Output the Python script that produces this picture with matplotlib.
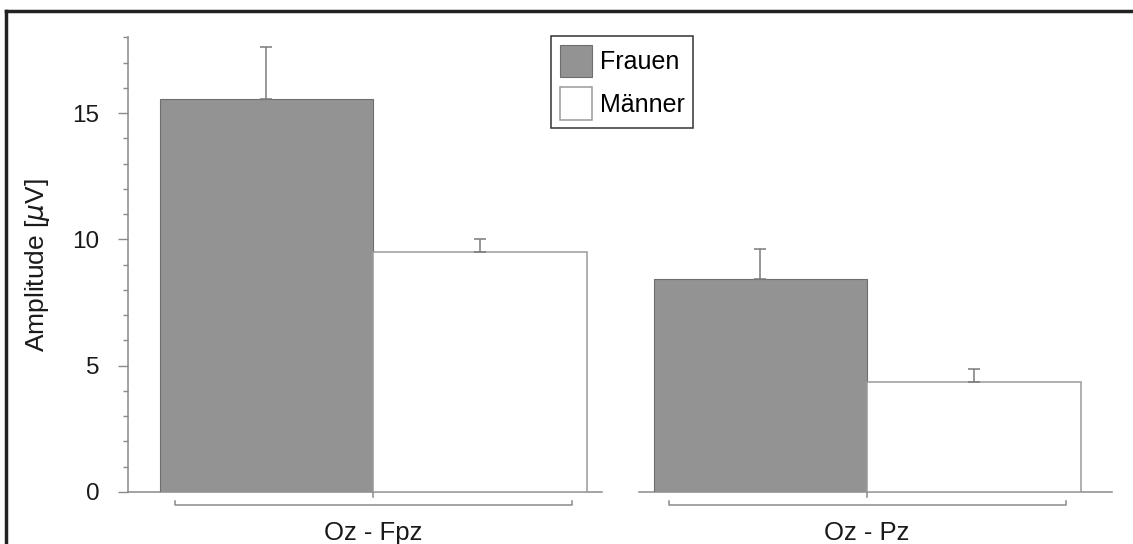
import matplotlib.pyplot as plt
from matplotlib.lines import Line2D
from matplotlib.patches import Patch

plt.rcParams['font.family'] = ['Liberation Sans', 'DejaVu Sans']

# data
groups = ["Oz - Fpz", "Oz - Pz"]
frauen = [15.58, 8.42]
frauen_err = [2.05, 1.2]
maenner = [9.49, 4.37]
maenner_err = [0.52, 0.5]

group_pos = [0.0, 2.314]
width = 1.0
axis_grey = "#8a8a8a"

fig = plt.figure(figsize=(11.33, 5.44), dpi=100)
ax = fig.add_axes([0.11297, 0.09559, 0.8685, 0.8355])

x_f = [g - width / 2 for g in group_pos]
x_m = [g + width / 2 for g in group_pos]

ax.bar(x_f, frauen, width, color="#939393", edgecolor="#6e6e6e", linewidth=0.8, zorder=2)
ax.bar(x_m, maenner, width, color="white", edgecolor="#9a9a9a", linewidth=1.1, zorder=2)

err_kw = dict(fmt="none", ecolor="#7a7a7a", elinewidth=1.1, capsize=4, capthick=1.1, zorder=3)
ax.errorbar(x_f, frauen, yerr=[[0] * len(frauen), frauen_err], **err_kw)
ax.errorbar(x_m, maenner, yerr=[[0] * len(maenner), maenner_err], **err_kw)

xmin, xmax = -1.148, group_pos[1] + 1.147
ax.set_xlim(xmin, xmax)
ax.set_ylim(0, 18)

# broken x axis, one piece per group
line_kw = dict(color=axis_grey, linewidth=1.1, clip_on=False, zorder=1)
ax.plot([xmin, group_pos[0] + 1.07], [0, 0], **line_kw)
ax.plot([group_pos[1] - 1.07, xmax], [0, 0], **line_kw)

for g, name in zip(group_pos, groups):
    ax.plot([g, g], [0, -0.2], **line_kw)
    ax.plot([g - 0.93, g - 0.93, g + 0.93, g + 0.93], [-0.36, -0.52, -0.52, -0.36], **line_kw)
    ax.text(g, -1.9, name, ha="center", va="baseline", fontsize=18.5, color="#1a1a1a", clip_on=False)

for side in ["top", "right", "bottom"]:
    ax.spines[side].set_visible(False)
ax.spines["left"].set_bounds(0, 18)
ax.spines["left"].set_color(axis_grey)
ax.spines["left"].set_linewidth(1.1)

ax.set_xticks([])
ax.set_yticks([0, 5, 10, 15])
ax.set_yticks(range(0, 19), minor=True)
ax.tick_params(axis="y", which="major", length=7.5, width=1.0, color=axis_grey,
               labelsize=17.5, labelcolor="#1a1a1a", pad=13)
ax.tick_params(axis="y", which="minor", length=3.8, width=1.0, color=axis_grey)

ax.set_ylabel(r"Amplitude [$\mu$V]", fontsize=19, color="#1a1a1a")
ax.yaxis.set_label_coords(-0.077, 0.5)

handles = [Patch(facecolor="#939393", edgecolor="#6e6e6e", linewidth=0.8),
           Patch(facecolor="white", edgecolor="#9a9a9a", linewidth=1.1)]
leg = fig.legend(handles, ["Frauen", "Männer"], loc="upper left",
                 bbox_to_anchor=(551 / 1133, 1 - 36 / 544), fontsize=18,
                 handlelength=1.3, handleheight=1.6, handletextpad=0.3,
                 labelspacing=0.42, borderpad=0.35, borderaxespad=0,
                 fancybox=False, framealpha=1)
leg.get_frame().set_edgecolor("#333333")
leg.get_frame().set_linewidth(1.1)

# frame of the original figure (only top and left visible)
fig.add_artist(Line2D([6 / 1133, 6 / 1133], [0, 1 - 11 / 544], color="#222222", linewidth=2.5))
fig.add_artist(Line2D([6 / 1133, 1], [1 - 11 / 544, 1 - 11 / 544], color="#222222", linewidth=2.5))

fig.savefig("out.png", dpi=100)
